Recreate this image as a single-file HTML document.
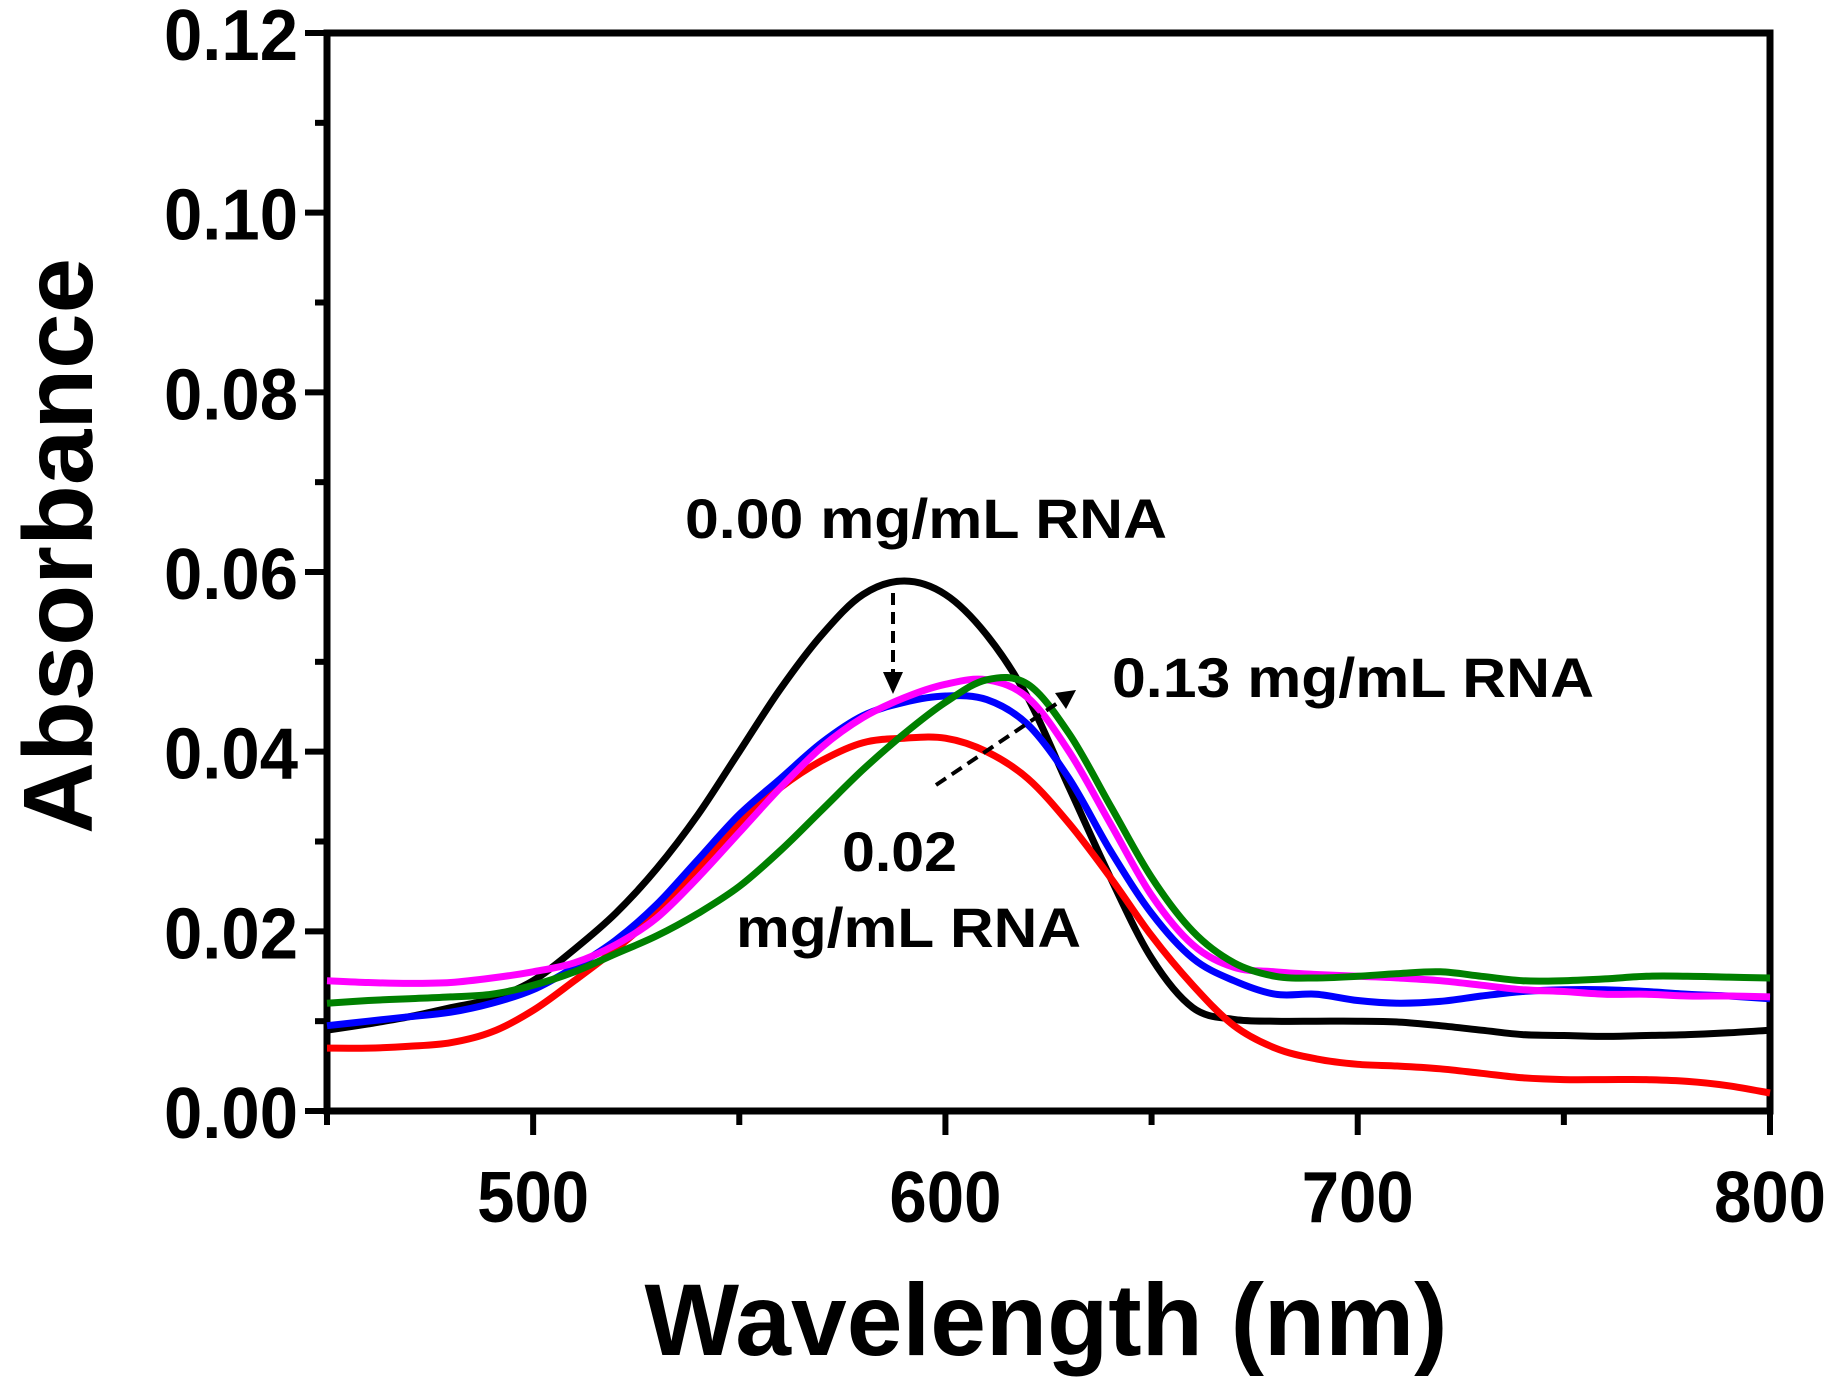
<!DOCTYPE html>
<html><head><meta charset="utf-8"><style>
html,body{margin:0;padding:0;background:#fff;}
svg{display:block;font-family:"Liberation Sans",Arial,sans-serif;font-weight:bold;}
</style></head><body>
<svg id="chart" width="1842" height="1377" viewBox="0 0 1842 1377">
<g id="axes"></g>
<g id="series"></g>
<g id="annot">
<text x="685" y="538" font-size="56" textLength="482" lengthAdjust="spacingAndGlyphs">0.00 mg/mL RNA</text>
<text x="1112" y="697" font-size="56" textLength="482" lengthAdjust="spacingAndGlyphs">0.13 mg/mL RNA</text>
<text x="842" y="871" font-size="56" textLength="115" lengthAdjust="spacingAndGlyphs">0.02</text>
<text x="736" y="947" font-size="56" textLength="345" lengthAdjust="spacingAndGlyphs">mg/mL RNA</text>
<line x1="893" y1="593" x2="893" y2="678" stroke="#000" stroke-width="4" stroke-dasharray="12,7"/>
<polygon points="883,672 903,672 893,694" fill="#000"/>
<line x1="936" y1="785" x2="1062" y2="700" stroke="#000" stroke-width="4" stroke-dasharray="12,7"/>
<polygon points="1076,690 1055,693 1066,709" fill="#000"/>
</g>
<text x="1046" y="1355" font-size="102" text-anchor="middle" textLength="803" lengthAdjust="spacingAndGlyphs">Wavelength (nm)</text>
<text transform="translate(92,546) rotate(-90)" font-size="98" text-anchor="middle" textLength="576" lengthAdjust="spacingAndGlyphs">Absorbance</text>
</svg>
<script>
const wl=[450,460,470,480,490,500,510,520,530,540,550,560,570,580,590,600,610,620,630,640,650,660,670,680,690,700,710,720,730,740,750,760,770,780,790,800];
const black=[.009,.0097,.0105,.0115,.0125,.0145,.018,.022,.027,.033,.040,.047,.053,.0575,.059,.0575,.053,.046,.036,.026,.017,.0115,.0102,.0100,.0100,.0100,.0099,.0095,.009,.0085,.0084,.0083,.0084,.0085,.0087,.009];
const red=[.007,.007,.0072,.0076,.0088,.0112,.0145,.018,.022,.027,.032,.036,.039,.041,.0415,.0415,.040,.037,.032,.026,.0195,.014,.0095,.007,.0058,.0052,.005,.0047,.0042,.0037,.0035,.0035,.0035,.0033,.0028,.002];
const blue=[.0095,.010,.0105,.011,.012,.0135,.016,.019,.023,.028,.033,.037,.041,.044,.0455,.0462,.0458,.043,.037,.029,.022,.017,.0145,.013,.013,.0123,.012,.0122,.0128,.0133,.0135,.0135,.0133,.013,.0128,.0125];
const magenta=[.0145,.0143,.0142,.0143,.0148,.0155,.0165,.0185,.0215,.026,.031,.036,.0405,.0438,.046,.0475,.048,.046,.040,.032,.024,.0185,.016,.0155,.0152,.015,.0148,.0145,.014,.0135,.0133,.013,.013,.0128,.0128,.0127];
const green=[.012,.0123,.0125,.0127,.013,.014,.0155,.0175,.0195,.022,.025,.029,.0335,.038,.042,.0455,.048,.0475,.042,.034,.026,.020,.0165,.015,.0148,.015,.0153,.0155,.015,.0145,.0145,.0147,.015,.015,.0149,.0148];
const yTicks=["0.00","0.02","0.04","0.06","0.08","0.10","0.12"];
const xTicks=["500","600","700","800"];
const L=327,R=1770,T=33,B=1111;
const xs=v=>L+(v-450)/350*(R-L);
const ys=v=>B-v/0.12*(B-T);
const NS="http://www.w3.org/2000/svg";
function mk(t,parent){const e=document.createElementNS(NS,t);parent.appendChild(e);return e;}
const ax=document.getElementById('axes');
const frame=mk('rect',ax);


frame.setAttribute('x',L);frame.setAttribute('y',T);frame.setAttribute('width',R-L);frame.setAttribute('height',B-T);
frame.setAttribute('fill','none');frame.setAttribute('stroke','#000');frame.setAttribute('stroke-width','7');
for(let i=0;i<=12;i++){const v=i*0.01;const y=ys(v);const l=mk('line',ax);


l.setAttribute('x1',L);l.setAttribute('x2',L-(i%2?12:22));l.setAttribute('y1',y);l.setAttribute('y2',y);l.setAttribute('stroke','#000');l.setAttribute('stroke-width','6');}
yTicks.forEach(s=>{const t=mk('text',ax);


t.setAttribute('x',298);t.setAttribute('y',ys(parseFloat(s))+27);t.setAttribute('text-anchor','end');t.setAttribute('font-size','72');t.setAttribute('textLength','134');t.setAttribute('lengthAdjust','spacingAndGlyphs');t.textContent=s;});
for(let v=450;v<=800;v+=50){const x=xs(v);const l=mk('line',ax);


l.setAttribute('x1',x);l.setAttribute('x2',x);l.setAttribute('y1',B);l.setAttribute('y2',B+(v%100?14:24));l.setAttribute('stroke','#000');l.setAttribute('stroke-width','6');}
xTicks.forEach(s=>{const t=mk('text',ax);


t.setAttribute('x',xs(parseFloat(s)));t.setAttribute('y',1222);t.setAttribute('text-anchor','middle');t.setAttribute('font-size','72');t.setAttribute('textLength','112');t.setAttribute('lengthAdjust','spacingAndGlyphs');t.textContent=s;});
function smooth(pts){let d='M'+pts[0][0].toFixed(1)+','+pts[0][1].toFixed(1);
for(let i=0;i<pts.length-1;i++){const p0=pts[i-1]||pts[i],p1=pts[i],p2=pts[i+1],p3=pts[i+2]||p2;
const c1=[p1[0]+(p2[0]-p0[0])/6,p1[1]+(p2[1]-p0[1])/6],c2=[p2[0]-(p3[0]-p1[0])/6,p2[1]-(p3[1]-p1[1])/6];
d+='C'+c1.map(v=>v.toFixed(1)).join(',')+' '+c2.map(v=>v.toFixed(1)).join(',')+' '+p2.map(v=>v.toFixed(1)).join(',');}
return d;}
const sg=document.getElementById('series');
[["black",black,"#000"],["red",red,"#f00"],["blue",blue,"#00f"],["magenta",magenta,"#f0f"],["green",green,"#008000"]].forEach(([n,d,c])=>{
const p=mk('path',sg);


p.setAttribute('d',smooth(d.map((v,i)=>[xs(wl[i]),ys(v)])));
p.setAttribute('fill','none');p.setAttribute('stroke',c);p.setAttribute('stroke-width','7');p.setAttribute('stroke-linejoin','round');});
</script>
</body></html>
